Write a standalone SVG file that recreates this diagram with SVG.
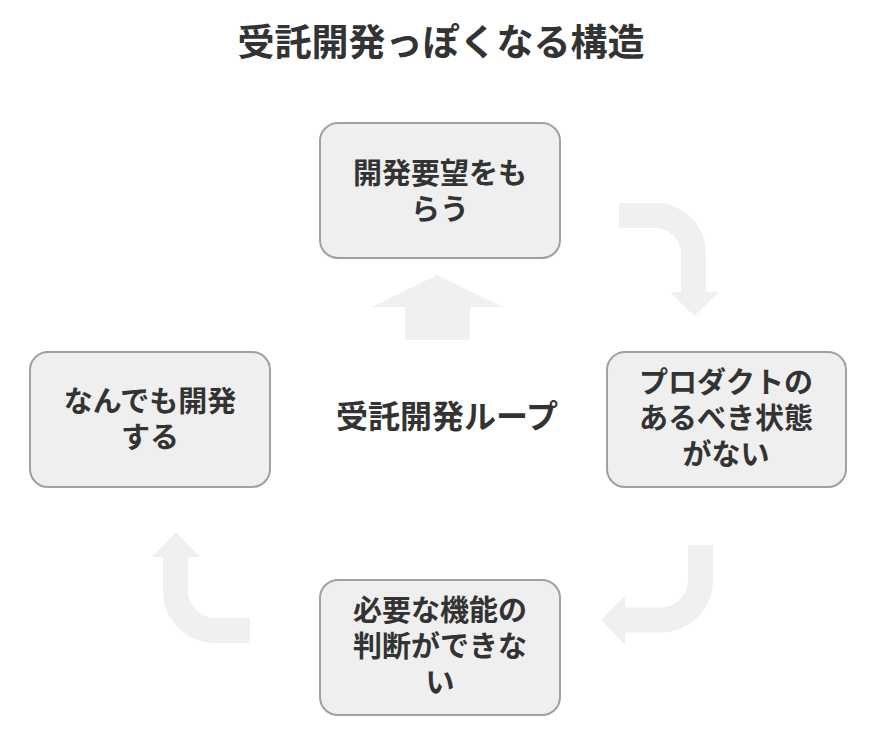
<svg xmlns="http://www.w3.org/2000/svg" width="886" height="750" viewBox="0 0 886 750">
<style>
.box{fill:#efefef;stroke:#a0a0a0;stroke-width:2}
.t{font-family:"Noto Sans CJK JP",sans-serif;font-weight:bold;font-size:29px;fill:#333;text-anchor:middle}
.sh{fill:none;stroke:#f0f0f0;stroke-width:25}
.hd{fill:#f0f0f0}
</style>
<rect width="886" height="750" fill="#fff"/>
<text class="t" x="441" y="56" style="font-size:37px">受託開発っぽくなる構造</text>
<g id="connectors">
<path class="sh" d="M619,215.5 H655 A38.5,38.5 0 0 1 693.5,254 V293"/>
<polygon class="hd" points="670,292 719,292 694,316"/>
<path class="sh" d="M700.5,545 V580 A40,40 0 0 1 660.5,620 H624"/>
<polygon class="hd" points="625,596 625,645 601,620"/>
<path class="sh" d="M250,630.5 H215 A39.5,39.5 0 0 1 175.5,591 V556"/>
<polygon class="hd" points="152,557 200,557 176,532"/>
<polygon class="hd" points="437,275 503,307 470,307 470,340 405,340 405,307 372,307"/>
</g>
<g id="n1"><rect class="box" x="320" y="123" width="240" height="135" rx="18"/><text class="t" x="440" y="184">開発要望をも</text><text class="t" x="440" y="220">らう</text></g>
<g id="n2"><rect class="box" x="607" y="352" width="239" height="135" rx="18"/><text class="t" x="726" y="393">プロダクトの</text><text class="t" x="726" y="429">あるべき状態</text><text class="t" x="726" y="465">がない</text></g>
<g id="n3"><rect class="box" x="320" y="580" width="240" height="135" rx="18"/><text class="t" x="440" y="621">必要な機能の</text><text class="t" x="440" y="657">判断ができな</text><text class="t" x="440" y="693">い</text></g>
<g id="n4"><rect class="box" x="30" y="352" width="240" height="135" rx="18"/><text class="t" x="150" y="412">なんでも開発</text><text class="t" x="150" y="448">する</text></g>
<text class="t" x="447" y="428" style="font-size:32px">受託開発ループ</text>
</svg>
